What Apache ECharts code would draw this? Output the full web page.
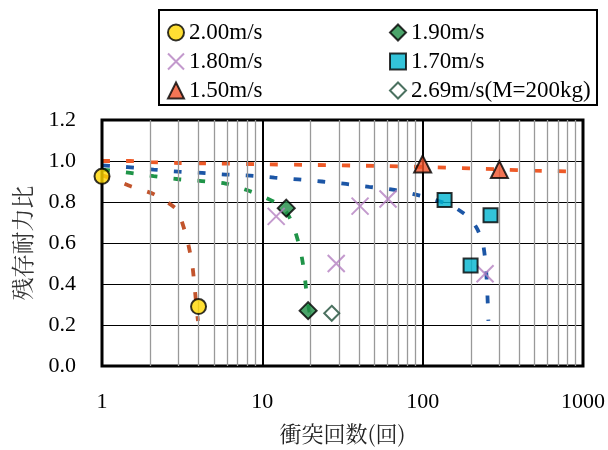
<!DOCTYPE html>
<html><head><meta charset="utf-8">
<script src="https://cdn.jsdelivr.net/npm/echarts@6/dist/echarts.min.js"></script>
<style>html,body{margin:0;padding:0;background:#fff}#c{width:608px;height:450px}</style>
</head><body><div id="c"></div>
<script>
// measured points [impact count, residual strength ratio]
const pts200 = [[1, 0.925], [4, 0.29]];
const pts190 = [[14.1, 0.77], [19.3, 0.27]];
const pts180 = [[12.2, 0.73], [28.9, 0.50], [40.7, 0.78], [60.8, 0.815], [245, 0.45]];
const pts170 = [[137, 0.81], [265, 0.735], [199, 0.49]];
const pts150 = [[100, 0.985], [301, 0.958]];
const pts269 = [[27.1, 0.257]];
// fitted (dashed) curves
const fit150 = [[1,1.0],[1.5,1.0],[2,0.995],[3,0.99],[5,0.988],[10,0.984],[20,0.981],[50,0.976],[100,0.971],[200,0.964],[300,0.959],[500,0.953],[1000,0.948]];
const fit170 = [[1,0.979],[1.45,0.970],[2.1,0.958],[3,0.948],[4.2,0.942],[5.9,0.934],[8.4,0.929],[11.9,0.919],[16.7,0.910],[23.5,0.900],[33.3,0.888],[46.4,0.874],[65,0.860],[92,0.835],[120,0.81],[153,0.78],[180,0.745],[200,0.715],[220,0.665],[238,0.595],[248,0.48],[253,0.36],[257,0.22]];
const fit190 = [[1,0.958],[1.5,0.942],[2.1,0.926],[3,0.911],[4.2,0.902],[5.9,0.89],[8.4,0.852],[11.9,0.80],[14,0.755],[15.6,0.684],[17.3,0.563],[18.3,0.45],[18.9,0.35],[19.5,0.28],[20.4,0.215]];
const fit200 = [[1,0.93],[1.12,0.918],[1.51,0.877],[2.12,0.837],[2.84,0.773],[3.06,0.732],[3.39,0.619],[3.65,0.498],[3.79,0.377],[3.92,0.256],[3.97,0.22]];
const minorX = [2,3,4,5,6,7,8,9,20,30,40,50,60,70,80,90,200,300,400,500,600,700,800,900];
const names = ['2.00m/s','1.90m/s','1.80m/s','1.70m/s','1.50m/s','2.69m/s(M=200kg)'];

const serif = '"Liberation Serif", "Times New Roman", serif';
const cjk = '"Noto Serif CJK JP", "Noto Sans CJK JP", serif';
const dash = [8, 16];
function fitLine(data, color) {
  return {type:'line', data, showSymbol:false, symbol:'none', smooth:0.25, silent:true, z:3,
    lineStyle:{color, width:3.8, type:dash, cap:'butt'}};
}
const chart = echarts.init(document.getElementById('c'), null, {renderer:'canvas'});
chart.setOption({
  animation:false,
  grid:{left:102, right:24, top:120, bottom:82, show:true, borderColor:'#000', borderWidth:3, backgroundColor:'transparent', z:4},
  xAxis:{type:'log', logBase:10, min:1, max:1000,
    axisLine:{show:false}, axisTick:{show:false},
    axisLabel:{color:'#000', fontFamily:serif, fontSize:22, margin:25, formatter:v=>String(Math.round(v))},
    splitLine:{show:true, lineStyle:{color:'#000', width:2}},
    name:'衝突回数(回)', nameLocation:'middle', nameGap:57,
    nameTextStyle:{color:'#222', fontFamily:cjk, fontSize:22}},
  yAxis:{type:'value', min:0, max:1.2, interval:0.2,
    axisLine:{show:false}, axisTick:{show:false},
    axisLabel:{color:'#000', fontFamily:serif, fontSize:22, margin:26, formatter:v=>v.toFixed(1)},
    splitLine:{show:true, lineStyle:{color:'#000', width:1}},
    name:'残存耐力比', nameLocation:'middle', nameGap:68, nameRotate:90,
    nameTextStyle:{color:'#333', fontFamily:cjk, fontSize:23}},
  legend:[
    {data:[names[0],names[2],names[4]], orient:'vertical', left:162, top:16, itemWidth:16, itemHeight:16, itemGap:6,
     textStyle:{color:'#000', fontFamily:serif, fontSize:23}},
    {data:[names[1],names[3],names[5]], orient:'vertical', left:384, top:16, itemWidth:16, itemHeight:16, itemGap:6,
     textStyle:{color:'#000', fontFamily:serif, fontSize:23}}
  ],
  graphic:[{type:'rect', shape:{x:159, y:10, width:438, height:95}, style:{fill:'none', stroke:'#000', lineWidth:2}, z:10}],
  series:[
    {type:'line', data:[], silent:true, markLine:{silent:true, symbol:'none', label:{show:false}, animation:false,
      lineStyle:{color:'#999', width:1.3, type:'solid'}, data:minorX.map(v=>({xAxis:v}))}},
    fitLine(fit150, '#EE5A28'),
    fitLine(fit170, '#1C56A6'),
    fitLine(fit190, '#1F9448'),
    fitLine(fit200, '#C2542C'),
    {name:names[0], type:'scatter', data:pts200, symbol:'circle', symbolSize:15, clip:false, z:6,
      itemStyle:{color:'#FFD700', borderColor:'#000', borderWidth:2}},
    {name:names[1], type:'scatter', data:pts190, symbol:'diamond', symbolSize:[17,17], clip:false, z:6,
      itemStyle:{color:'#1E8C45', borderColor:'#000', borderWidth:2}},
    {name:names[2], type:'scatter', data:pts180, symbol:'path://M0,0L10,10M10,0L0,10', symbolSize:17, clip:false, z:6,
      itemStyle:{color:'rgba(0,0,0,0)', borderColor:'#B47FC0', borderWidth:2}},
    {name:names[3], type:'scatter', data:pts170, symbol:'rect', symbolSize:14, clip:false, z:6,
      itemStyle:{color:'#00B4D0', borderColor:'#000', borderWidth:2}},
    {name:names[4], type:'scatter', data:pts150, symbol:'triangle', symbolSize:17, clip:false, z:6,
      itemStyle:{color:'#F0522A', borderColor:'#000', borderWidth:2}},
    {name:names[5], type:'scatter', data:pts269, symbol:'diamond', symbolSize:15, clip:false, z:6,
      itemStyle:{color:'#fff', borderColor:'#1E4D38', borderWidth:2}}
  ]
});
</script></body></html>
